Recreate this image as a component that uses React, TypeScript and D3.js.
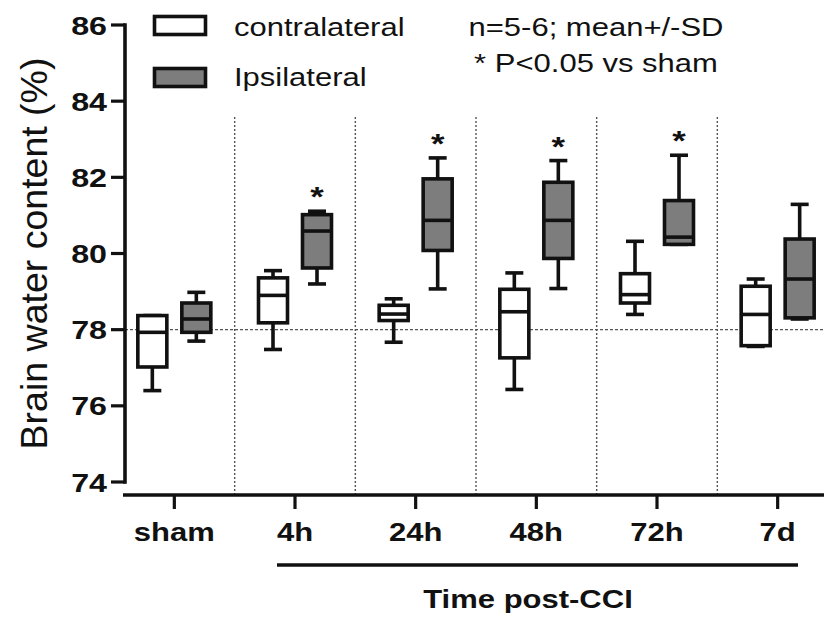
import React from "react";
import * as d3 from "d3";

const W = 824;
const H = 623;

// groups and stats (whisker low, q1, median, q3, whisker high)
const groups = ["sham", "4h", "24h", "48h", "72h", "7d"];
const contraLow = [76.4, 77.48, 77.67, 76.43, 78.4, 77.56];
const contraQ1 = [77.02, 78.18, 78.24, 77.26, 78.7, 77.58];
const contraMed = [77.93, 78.9, 78.41, 78.47, 78.92, 78.4];
const contraQ3 = [78.37, 79.36, 78.64, 79.06, 79.47, 79.14];
const contraHigh = [78.37, 79.55, 78.81, 79.49, 80.32, 79.33];

const ipsiLow = [77.7, 79.2, 79.07, 79.08, 80.24, 78.28];
const ipsiQ1 = [77.93, 79.62, 80.08, 79.87, 80.24, 78.31];
const ipsiMed = [78.28, 80.59, 80.87, 80.87, 80.43, 79.33];
const ipsiQ3 = [78.7, 81.02, 81.96, 81.87, 81.39, 80.38];
const ipsiHigh = [78.98, 81.11, 82.51, 82.44, 82.58, 81.29];

const significant = [false, true, true, true, true, false];
const yTicks = [74, 76, 78, 80, 82, 84, 86];

const margin = { left: 125, top: 25, bottom: 482, axisY: 495 };
const SX = 1.24; // text in the reference is horizontally stretched
const FONT = "'Liberation Sans', Arial, Helvetica, sans-serif";
const INK = "#111";

const yScale = d3.scaleLinear().domain([74, 86]).range([margin.bottom, margin.top]);
const xScale = d3.scaleBand().domain(groups).range([114, 838]).padding(0);

function T({ x, y, children, anchor = "start", size = 25, weight = "normal" }: any) {
  return (
    <text
      transform={`translate(${x},${y}) scale(${SX},1)`}
      textAnchor={anchor}
      fontSize={size}
      fontWeight={weight}
      fontFamily={FONT}
      fill={INK}
    >
      {children}
    </text>
  );
}

function Box({ cx, lo, q1, med, q3, hi, fill }: any) {
  const bw = 29;
  const cap = 18;
  return (
    <g stroke={INK} strokeWidth={3.6} fill="none">
      <line x1={cx} x2={cx} y1={yScale(hi)} y2={yScale(q3)} />
      <line x1={cx} x2={cx} y1={yScale(q1)} y2={yScale(lo)} />
      <line x1={cx - cap / 2} x2={cx + cap / 2} y1={yScale(hi)} y2={yScale(hi)} />
      <line x1={cx - cap / 2} x2={cx + cap / 2} y1={yScale(lo)} y2={yScale(lo)} />
      <rect x={cx - bw / 2} width={bw} y={yScale(q3)} height={yScale(q1) - yScale(q3)} fill={fill} />
      <line x1={cx - bw / 2} x2={cx + bw / 2} y1={yScale(med)} y2={yScale(med)} />
    </g>
  );
}

export default function App() {
  const bw = xScale.bandwidth();
  const off = 22;
  return (
    <svg
      width={W}
      height={H}
      style={{ position: "absolute", left: 0, top: 0, background: "#fff" }}
    >
      {/* dotted dividers between groups */}
      {groups.slice(1).map((g) => (
        <line
          key={"div" + g}
          x1={xScale(g)!}
          x2={xScale(g)!}
          y1={117}
          y2={margin.axisY}
          stroke="#555"
          strokeWidth={1.4}
          strokeDasharray="2,2"
        />
      ))}
      {/* reference line at 78 */}
      <line
        x1={margin.left}
        x2={W}
        y1={yScale(78)}
        y2={yScale(78)}
        stroke="#555"
        strokeWidth={1.4}
        strokeDasharray="3,2"
      />

      {/* boxes */}
      {groups.map((g, i) => {
        const c = xScale(g)! + bw / 2;
        return (
          <g key={g}>
            <Box cx={c - off} lo={contraLow[i]} q1={contraQ1[i]} med={contraMed[i]} q3={contraQ3[i]} hi={contraHigh[i]} fill="#fff" />
            <Box cx={c + off} lo={ipsiLow[i]} q1={ipsiQ1[i]} med={ipsiMed[i]} q3={ipsiQ3[i]} hi={ipsiHigh[i]} fill="#7d7d7d" />
            {significant[i] && (
              <T x={c + off} y={yScale(ipsiHigh[i]) - 5} anchor="middle" size={28} weight="bold">
                *
              </T>
            )}
          </g>
        );
      })}

      {/* y axis */}
      <line x1={margin.left} x2={margin.left} y1={yScale(86) - 1.8} y2={yScale(74) + 1.8} stroke={INK} strokeWidth={3.6} />
      {yTicks.map((t) => (
        <g key={t}>
          <line x1={111} x2={margin.left} y1={yScale(t)} y2={yScale(t)} stroke={INK} strokeWidth={3.2} />
          <T x={107} y={yScale(t) + 9.5} anchor="end" weight="bold" size={26}>
            {t}
          </T>
        </g>
      ))}
      <text
        transform={`translate(47,${(57 + 450) / 2}) rotate(-90)`}
        textAnchor="middle"
        fontSize={37.5}
        fontFamily={FONT}
        fill={INK}
      >
        Brain water content (%)
      </text>

      {/* x axis */}
      <line x1={123} x2={W} y1={margin.axisY} y2={margin.axisY} stroke={INK} strokeWidth={3.6} />
      {groups.map((g) => {
        const c = xScale(g)! + bw / 2;
        return (
          <g key={"xt" + g}>
            <line x1={c} x2={c} y1={margin.axisY} y2={509} stroke={INK} strokeWidth={3.2} />
            <T x={c} y={541} anchor="middle" weight="bold">
              {g}
            </T>
          </g>
        );
      })}
      <line x1={277} x2={798} y1={565} y2={565} stroke={INK} strokeWidth={3.6} />
      <T x={528} y={608} anchor="middle" weight="bold">
        Time post-CCI
      </T>

      {/* legend */}
      <rect x={154.5} y={16.5} width={51} height={18} fill="#fff" stroke={INK} strokeWidth={3.6} />
      <rect x={154.5} y={68.5} width={51} height={18} fill="#7d7d7d" stroke={INK} strokeWidth={3.6} />
      <T x={234} y={36}>contralateral</T>
      <T x={234} y={86}>Ipsilateral</T>
      <T x={596} y={36} anchor="middle">n=5-6; mean+/-SD</T>
      <T x={596} y={72} anchor="middle">* P&lt;0.05 vs sham</T>
    </svg>
  );
}
